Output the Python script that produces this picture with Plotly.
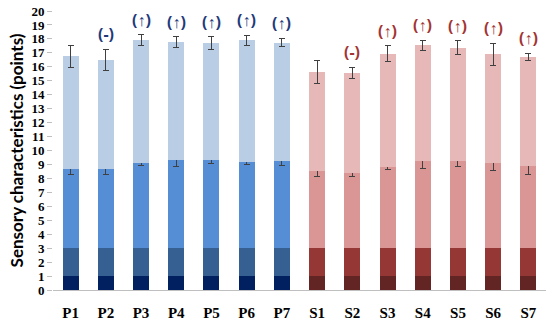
import plotly.graph_objects as go

categories = ["P1", "P2", "P3", "P4", "P5", "P6", "P7", "S1", "S2", "S3", "S4", "S5", "S6", "S7"]
level1 = [1] * 14
level2 = [2] * 14
mid_total = [8.71, 8.64, 9.14, 9.30, 9.30, 9.19, 9.23, 8.54, 8.40, 8.83, 9.23, 9.23, 9.11, 8.90]
mid_err = [0.40, 0.36, 0.24, 0.42, 0.24, 0.20, 0.32, 0.42, 0.24, 0.19, 0.50, 0.37, 0.53, 0.65]
top_total = [16.75, 16.50, 17.90, 17.75, 17.70, 17.90, 17.73, 15.63, 15.56, 16.94, 17.54, 17.35, 16.90, 16.70]
top_err = [0.77, 0.75, 0.40, 0.40, 0.45, 0.35, 0.30, 0.82, 0.40, 0.57, 0.36, 0.50, 0.80, 0.27]
marks = ["", "(-)", "(↑)", "(↑)", "(↑)", "(↑)", "(↑)", "", "(-)", "(↑)", "(↑)", "(↑)", "(↑)", "(↑)"]

n_p = 7
def colors(p, s):
    return [p] * n_p + [s] * (len(categories) - n_p)

seg3 = [m - 3 for m in mid_total]
seg4 = [t - m for t, m in zip(top_total, mid_total)]

err_style = dict(type="data", thickness=1, width=3, color="#404040")

fig = go.Figure()
fig.add_trace(go.Bar(x=categories, y=level1, marker=dict(color=colors("#002060", "#632523"), line_width=0)))
fig.add_trace(go.Bar(x=categories, y=level2, marker=dict(color=colors("#376092", "#953735"), line_width=0)))
fig.add_trace(go.Bar(x=categories, y=seg3, marker=dict(color=colors("#558ed5", "#d99694"), line_width=0),
                     error_y=dict(array=mid_err, **err_style)))
fig.add_trace(go.Bar(x=categories, y=seg4, marker=dict(color=colors("#b9cde5", "#e6b9b8"), line_width=0),
                     error_y=dict(array=top_err, **err_style)))

for i, (c, t) in enumerate(zip(categories, marks)):
    if not t:
        continue
    fig.add_annotation(x=c, y=top_total[i] + top_err[i], text="<b>" + t + "</b>", showarrow=False,
                       yanchor="bottom", yshift=2,
                       font=dict(family="Open Sans", size=16,
                                 color="#1f3a7a" if i < n_p else "#a33432"))

fig.update_layout(
    barmode="stack",
    bargap=0.545,
    showlegend=False,
    width=550, height=325,
    margin=dict(l=53, r=4, t=11, b=35, autoexpand=False),
    plot_bgcolor="white", paper_bgcolor="white",
    xaxis=dict(showline=True, linecolor="#bfbfbf", linewidth=1,
               ticks="outside", ticklen=9, tickcolor="rgba(0,0,0,0)",
               tickfont=dict(family="Liberation Serif", size=15, color="black"),
               tickprefix="<b>", ticksuffix="</b>", automargin=False),
    yaxis=dict(range=[0, 20], dtick=1, showgrid=False, zeroline=False, showline=False,
               ticks="outside", ticklen=5, tickcolor="#bfbfbf", automargin=False,
               tickfont=dict(family="Liberation Serif", size=13, color="black"),
               tickprefix="<b>", ticksuffix="</b>",
               title=dict(text="<b>Sensory characteristics (points)</b>", standoff=3,
                          font=dict(family="Lato", size=17, color="black"))),
)

fig.write_html("out.html", config={"displayModeBar": False},
               post_script="document.body.style.margin='0';document.body.style.overflow='hidden';")
